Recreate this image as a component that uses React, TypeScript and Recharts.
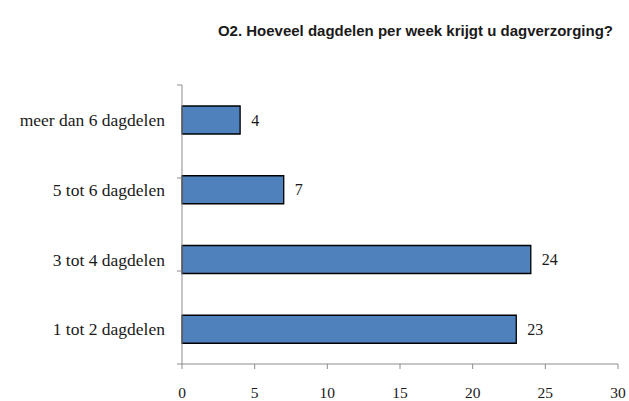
import { BarChart, Bar, XAxis, YAxis, LabelList } from "recharts";

const categories = [
  "meer dan 6 dagdelen",
  "5 tot 6 dagdelen",
  "3 tot 4 dagdelen",
  "1 tot 2  dagdelen",
];
const counts = [4, 7, 24, 23];
const xTicks = [0, 5, 10, 15, 20, 25, 30];
const bandEdges = [0, 1, 2, 3, 4];

const title = "O2. Hoeveel dagdelen per week krijgt u dagverzorging?";

const data = categories.map((name, i) => ({ name, value: counts[i] }));

const serif = "'Liberation Serif', 'DejaVu Serif', serif";
const axisGray = "#8c8c8c";

export default function App() {
  return (
    <div
      style={{
        position: "absolute",
        left: 0,
        top: 0,
        width: 629,
        height: 401,
        background: "#fff",
      }}
    >
      <div
        style={{
          position: "absolute",
          right: 16,
          top: 22,
          fontFamily: "'Liberation Sans', Arial, sans-serif",
          fontWeight: "bold",
          fontSize: 15,
          color: "#1a1a1a",
          whiteSpace: "nowrap",
        }}
      >
        {title}
      </div>
      <BarChart
        width={629}
        height={401}
        data={data}
        layout="vertical"
        margin={{ top: 85, right: 11, bottom: 7, left: 0 }}
      >
        <XAxis
          type="number"
          domain={[0, 30]}
          ticks={xTicks}
          interval={0}
          height={30}
          stroke={axisGray}
          tickSize={5}
          tickMargin={18}
          tick={{ fill: "#1a1a1a", fontFamily: serif, fontSize: 15.5 }}
        />
        {/* band-boundary ticks and the vertical axis line */}
        <YAxis
          yAxisId="a-frame"
          type="number"
          domain={[0, 4]}
          ticks={bandEdges}
          interval={0}
          width={1}
          stroke={axisGray}
          tickSize={5}
          tickFormatter={() => ""}
        />
        <YAxis
          yAxisId="b-cat"
          type="category"
          dataKey="name"
          width={181}
          axisLine={false}
          tickLine={false}
          tickMargin={10}
          tick={{ fill: "#1a1a1a", fontFamily: serif, fontSize: 17.5 }}
        />
        <Bar
          yAxisId="b-cat"
          dataKey="value"
          barSize={28}
          fill="#4f81bd"
          stroke="#000"
          strokeWidth={1.3}
          isAnimationActive={false}
        >
          <LabelList
            dataKey="value"
            position="right"
            offset={11}
            fill="#1a1a1a"
            fontFamily={serif}
            fontSize={16}
          />
        </Bar>
      </BarChart>
    </div>
  );
}
